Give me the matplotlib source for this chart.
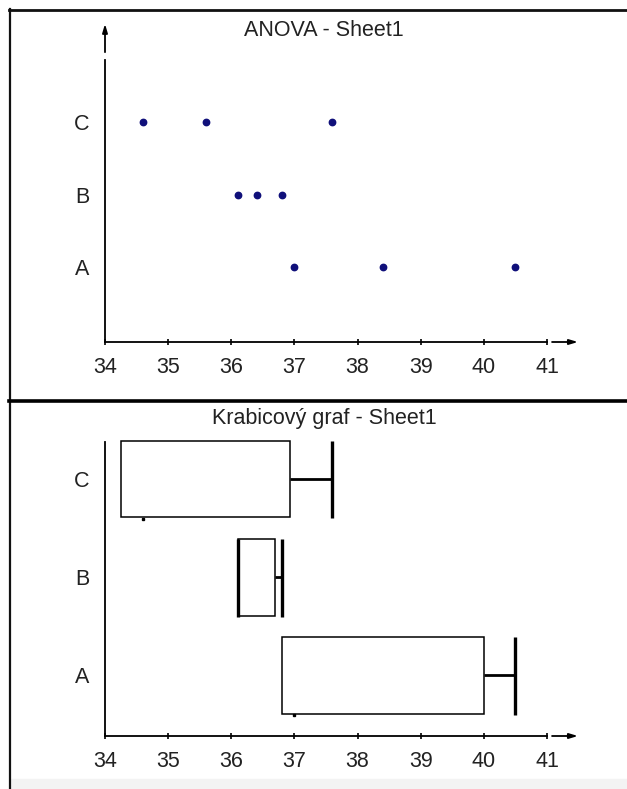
import matplotlib
matplotlib.use("Agg")
import matplotlib.pyplot as plt
from matplotlib.patches import Rectangle
from matplotlib.lines import Line2D

plt.rcParams['font.family'] = ['Liberation Sans', 'DejaVu Sans']

# data
groups = ["A", "B", "C"]
values = [
    [37.0, 38.4, 40.5],   # A
    [36.1, 36.4, 36.8],   # B
    [34.6, 35.6, 37.6],   # C
]
# box plot stats as drawn by the program
q1 = [36.8, 36.1, 34.25]
q3 = [40.0, 36.7, 36.93]
vmin = [37.0, 36.1, 34.6]
vmax = [40.5, 36.8, 37.6]
xticks = [34, 35, 36, 37, 38, 39, 40, 41]

W, H = 627, 789
fig = plt.figure(figsize=(W / 100, H / 100), dpi=100)
fig.patch.set_facecolor("white")


def px_axes(left, right, top, bottom):
    return fig.add_axes([left / W, 1 - bottom / H, (right - left) / W, (bottom - top) / H])


def style(ax):
    for s in ["top", "right"]:
        ax.spines[s].set_visible(False)
    ax.spines["left"].set_linewidth(1.3)
    ax.spines["bottom"].set_linewidth(1.3)
    ax.set_xlim(34, 41)
    ax.set_xticks(xticks)
    ax.set_xticklabels([str(t) for t in xticks], fontsize=15.5, color="#222222")
    ax.set_yticks([1, 2, 3])
    ax.set_yticklabels(groups, fontsize=15.5, color="#222222")
    ax.tick_params(axis="x", direction="inout", length=5, width=1.2, pad=8)
    ax.tick_params(axis="y", length=0, pad=11)
    ax.set_facecolor("none")
    ax.spines["bottom"].set_bounds(34, 41)


arrow = dict(arrowstyle="-|>,head_length=0.5,head_width=0.15", lw=1.3,
             color="black", shrinkA=0, shrinkB=0)

# ---- top panel: ANOVA dot plot
ax1 = px_axes(105, 547, 21, 342)
ax1.set_ylim(-0.03, 4.4)
style(ax1)
ax1.spines["left"].set_bounds(-0.03, 3.86)
for i, vals in enumerate(values):
    ax1.plot(vals, [i + 1] * len(vals), "o", color="#10107a", ms=4.6, clip_on=False)
ax1.annotate("", xy=(41.49, -0.03), xytext=(41.08, -0.03), arrowprops=arrow,
             annotation_clip=False)
ax1.annotate("", xy=(34, 4.36), xytext=(34, 3.97), arrowprops=arrow,
             annotation_clip=False)

# ---- bottom panel: box plot
ax2 = px_axes(105, 547, 442, 736)
ax2.set_ylim(0.384, 3.377)
style(ax2)
hh = 0.39
for i in range(len(groups)):
    y = i + 1
    ax2.add_patch(Rectangle((q1[i], y - hh), q3[i] - q1[i], 2 * hh,
                            fill=False, ec="black", lw=1.1, clip_on=False))
    ax2.plot([q3[i], vmax[i]], [y, y], color="black", lw=2.0,
             solid_capstyle="butt", clip_on=False)
    ax2.plot([vmax[i], vmax[i]], [y - hh - 0.01, y + hh], color="black", lw=2.4,
             solid_capstyle="butt", clip_on=False)
    if vmin[i] <= q1[i] + 0.05:
        ax2.plot([vmin[i], vmin[i]], [y - hh - 0.01, y + hh], color="black", lw=2.4,
                 solid_capstyle="butt", clip_on=False)
    else:
        ax2.plot([vmin[i]], [y - hh - 0.015], "s", color="black", ms=2, clip_on=False)
ax2.annotate("", xy=(41.49, 0.384), xytext=(41.08, 0.384), arrowprops=arrow,
             annotation_clip=False)

# titles
fig.text(324 / W, 1 - 30 / H, "ANOVA - Sheet1", ha="center", va="center",
         fontsize=15.5, color="#222222")
fig.text(324 / W, 1 - 419 / H, "Krabicový graf - Sheet1", ha="center", va="center",
         fontsize=15.5, color="#222222")

# frame lines
fig.add_artist(Line2D([10 / W, 10 / W], [0, 1 - 9 / H], color="#111111", lw=1.6))
fig.add_artist(Line2D([9 / W, 1], [1 - 10 / H, 1 - 10 / H], color="#111111", lw=2.0))
fig.add_artist(Line2D([9 / W, 1], [1 - 401 / H, 1 - 401 / H], color="black", lw=2.6))
fig.add_artist(Rectangle((11 / W, 0), 1, 10 / H, transform=fig.transFigure,
                         color="#f3f3f3", zorder=-1))

fig.savefig("out.png", dpi=100)
